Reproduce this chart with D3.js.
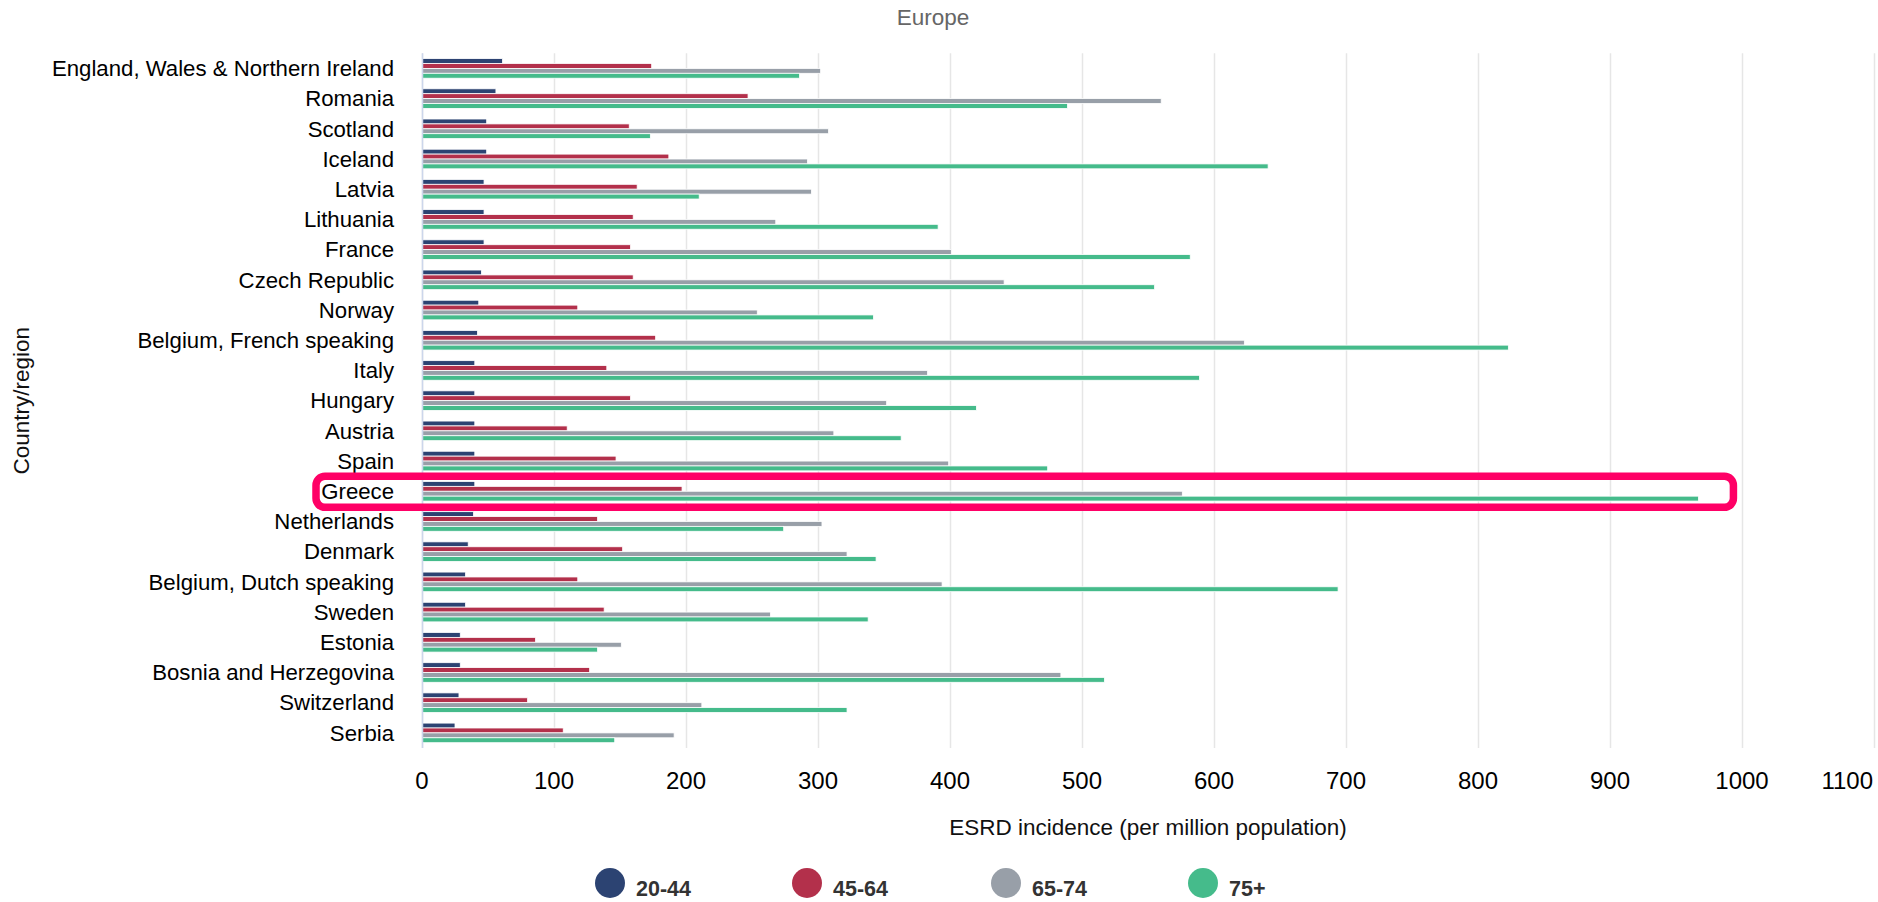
<!DOCTYPE html>
<html>
<head>
<meta charset="utf-8">
<script src="https://cdn.jsdelivr.net/npm/d3@7"></script>
<style>
html, body { margin: 0; padding: 0; background: #fff; }
svg { display: block; font-family: "Liberation Sans", Arial, sans-serif; }
</style>
</head>
<body>
<svg id="chart" width="1878" height="902"></svg>
<script>
const categories = ["England, Wales & Northern Ireland", "Romania", "Scotland", "Iceland", "Latvia", "Lithuania", "France", "Czech Republic", "Norway", "Belgium, French speaking", "Italy", "Hungary", "Austria", "Spain", "Greece", "Netherlands", "Denmark", "Belgium, Dutch speaking", "Sweden", "Estonia", "Bosnia and Herzegovina", "Switzerland", "Serbia"];
const seriesNames = ["20-44", "45-64", "65-74", "75+"];
const values2044 = [61, 56, 49, 49, 47, 47, 47, 45, 43, 42, 40, 40, 40, 40, 40, 39, 35, 33, 33, 29, 29, 28, 25];
const values4564 = [174, 247, 157, 187, 163, 160, 158, 160, 118, 177, 140, 158, 110, 147, 197, 133, 152, 118, 138, 86, 127, 80, 107];
const values6574 = [302, 560, 308, 292, 295, 268, 401, 441, 254, 623, 383, 352, 312, 399, 576, 303, 322, 394, 264, 151, 484, 212, 191];
const values75 = [286, 489, 173, 641, 210, 391, 582, 555, 342, 823, 589, 420, 363, 474, 967, 274, 344, 694, 338, 133, 517, 322, 146];
const xTicks = [0, 100, 200, 300, 400, 500, 600, 700, 800, 900, 1000, 1100];
const highlighted = "Greece";
const colors = ["#2c4372", "#b3304b", "#989fa8", "#45bb8b"];

const series = [values2044, values4564, values6574, values75];

const svg = d3.select("#chart");
const margin = { left: 422, right: 1874, top: 53.3, bottom: 748 };

const x = d3.scaleLinear().domain([0, 1100]).range([margin.left, margin.right]);
const y = d3.scaleBand().domain(categories).range([margin.top, margin.bottom]).paddingInner(0).paddingOuter(0);
const groupH = 19.6;
const ys = d3.scaleBand().domain(seriesNames).range([0, groupH]).padding(0);

// title
svg.append("text").attr("x", 933).attr("y", 25).attr("text-anchor", "middle")
  .attr("fill", "#666").attr("font-size", 22.5).text("Europe");

// gridlines
svg.append("g").selectAll("line").data(xTicks).join("line")
  .attr("x1", d => x(d) + 0.5).attr("x2", d => x(d) + 0.5)
  .attr("y1", margin.top).attr("y2", margin.bottom)
  .attr("stroke", "#e6e6e6").attr("stroke-width", 1.5);

// bars
const gBars = svg.append("g");
categories.forEach((c, i) => {
  const y0 = y(c) + (y.bandwidth() - groupH) / 2;
  series.forEach((vals, s) => {
    gBars.append("rect")
      .attr("x", x(0))
      .attr("y", y0 + ys(seriesNames[s]))
      .attr("width", x(vals[i]) - x(0))
      .attr("height", ys.bandwidth())
      .attr("fill", colors[s])
      .attr("stroke", "#fff").attr("stroke-width", 0.8);
  });
});

// y axis line
svg.append("line").attr("x1", x(0) + 0.5).attr("x2", x(0) + 0.5)
  .attr("y1", margin.top).attr("y2", margin.bottom)
  .attr("stroke", "#ccd6eb").attr("stroke-width", 1.5);

// category labels
svg.append("g").selectAll("text").data(categories).join("text")
  .attr("x", 394).attr("y", d => y(d) + y.bandwidth() / 2)
  .attr("dy", "0.35em").attr("text-anchor", "end")
  .attr("font-size", 22.2).attr("fill", "#000").text(d => d);

// x tick labels
svg.append("g").selectAll("text").data(xTicks).join("text")
  .attr("x", d => d === 1100 ? margin.right - 1 : x(d))
  .attr("y", 789)
  .attr("text-anchor", d => d === 1100 ? "end" : "middle")
  .attr("font-size", 24).attr("fill", "#000").text(d => d);

// axis titles
svg.append("text").attr("x", (margin.left + margin.right) / 2).attr("y", 835)
  .attr("text-anchor", "middle").attr("font-size", 22.5).attr("fill", "#111")
  .text("ESRD incidence (per million population)");
svg.append("text").attr("transform", `translate(29,${(margin.top + margin.bottom) / 2}) rotate(-90)`)
  .attr("text-anchor", "middle").attr("font-size", 22.5).attr("fill", "#111")
  .text("Country/region");

// highlight box
const hy = y(highlighted);
svg.append("rect")
  .attr("x", 316).attr("y", hy)
  .attr("width", x(993.5) - 316).attr("height", y.bandwidth() + 1)
  .attr("rx", 9).attr("ry", 9)
  .attr("fill", "none").attr("stroke", "#ff0066").attr("stroke-width", 7.5);

// legend
const legendX = [610, 807, 1006, 1203];
const lg = svg.append("g").selectAll("g").data(seriesNames).join("g")
  .attr("transform", (d, i) => `translate(${legendX[i]},883)`);
lg.append("circle").attr("r", 15).attr("fill", (d, i) => colors[i]);
lg.append("text").attr("x", 26).attr("y", 13).attr("font-size", 21.5).attr("font-weight", "bold")
  .attr("fill", "#333").text(d => d);
</script>
</body>
</html>
